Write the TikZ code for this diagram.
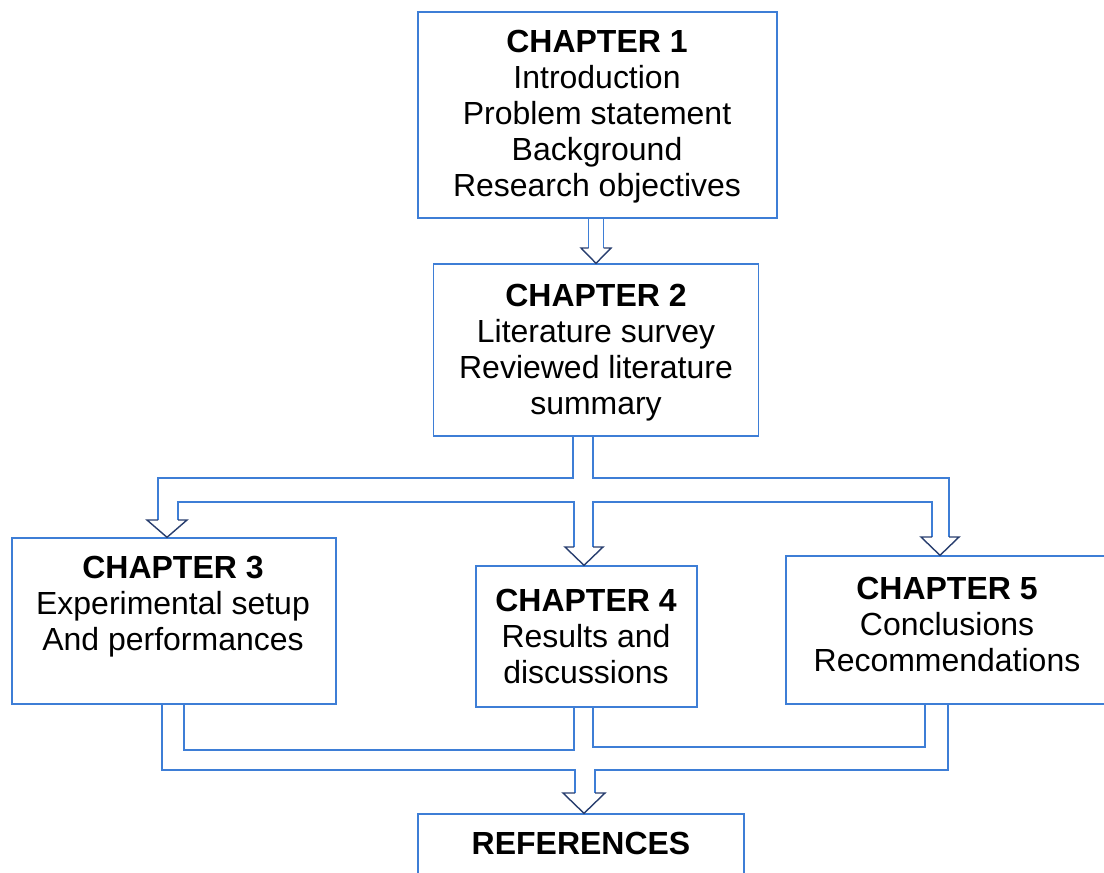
\documentclass[tikz,border=0pt]{standalone}
\usepackage{fontspec}
\setmainfont{Liberation Sans}
\usetikzlibrary{calc,positioning}
\definecolor{boxblue}{RGB}{62,126,214}
\definecolor{headblue}{RGB}{40,62,110}

\begin{document}
\begin{tikzpicture}[x=0.02cm,y=-0.02cm,
  box/.style={draw=boxblue,line width=0.8pt,inner sep=0pt},
  txt/.style={align=center,inner sep=0pt,font=\fontsize{18.2}{20.5}\selectfont},
  shaft/.style={draw=boxblue,line width=0.8pt},
  head/.style={draw=headblue,line width=0.8pt,line join=miter}]
	  \clip (0,0) rectangle (1104,872);
	  \node[box,minimum width=7.18cm,minimum height=4.12cm] (ch1) at (597.5,115) {};
	  \node[box,minimum width=6.5cm,minimum height=3.44cm]  (ch2) at (596,350) {};
	  \node[box,minimum width=6.48cm,minimum height=3.32cm] (ch3) at (174,621) {};
	  \node[box,minimum width=4.42cm,minimum height=2.82cm] (ch4) at (586.5,636.5) {};
	  \node[box,minimum width=6.48cm,minimum height=2.96cm] (ch5) at (948,630) {};
	  \node[box,minimum width=6.52cm,minimum height=1.72cm] (ref) at (581,857) {};
	  \node[txt] (ch1txt) at (597,117) {\textbf{CHAPTER 1}\\Introduction\\Problem statement\\Background\\Research objectives};
	  \node[txt] (ch2txt) at (596,353) {\textbf{CHAPTER 2}\\Literature survey\\Reviewed literature\\summary};
	  \node[txt] (ch3txt) at (173,607) {\textbf{CHAPTER 3}\\Experimental setup\\And performances};
	  \node[txt] (ch4txt) at (586,636) {\textbf{CHAPTER 4}\\Results and\\discussions};
	  \node[txt] (ch5txt) at (947,624) {\textbf{CHAPTER 5}\\Conclusions\\Recommendations};
	  \node[txt] (reftxt) at (581,843) {\textbf{REFERENCES}};
	  % chapter 1 to chapter 2
	  \draw[shaft] ($(ch1.south)+(-9,0)$) -- (588.5,248) ($(ch1.south)+(6,0)$) -- (603.5,248);
	  \draw[head] (588.5,248) -- (581,248) -- (ch2.north) -- (611,248) -- (603.5,248);
	  % chapter 2 to chapters 3, 4 and 5
	  \draw[shaft] ($(ch2.south)+(-23,0)$) |- (158,478) -- (158,520);
	  \draw[shaft] ($(ch2.south)+(-3,0)$) |- (949,478) -- (949,537);
	  \draw[shaft] (178,520) |- (574,502) -- (574,547);
	  \draw[shaft] (593,547) |- (932,502) -- (932,537);
	  \draw[head] (158,520) -- (147,520) -- ($(ch3.north)+(-7,0)$) -- (187,520) -- (178,520);
	  \draw[head] (574,547) -- (565,547) -- ($(ch4.north)+(-2.5,0)$) -- (603,547) -- (593,547);
	  \draw[head] (932,537) -- (921,537) -- ($(ch5.north)+(-8,0)$) -- (959,537) -- (949,537);
	  % chapters 3, 4 and 5 to references
	  \draw[shaft] ($(ch3.south)+(-12,0)$) |- (575,770) -- (575,793);
	  \draw[shaft] ($(ch5.south)+(0,0)$) |- (595,770) -- (595,793);
	  \draw[shaft] ($(ch3.south)+(10,0)$) |- (574,750) -- ($(ch4.south)+(-12.5,0)$);
	  \draw[shaft] ($(ch4.south)+(6.5,0)$) |- (925,747) -- ($(ch5.south)+(-23,0)$);
	  \draw[head] (575,793) -- (563,793) -- ($(ref.north)+(3,0)$) -- (605,793) -- (595,793);
	\end{tikzpicture}
\end{document}
